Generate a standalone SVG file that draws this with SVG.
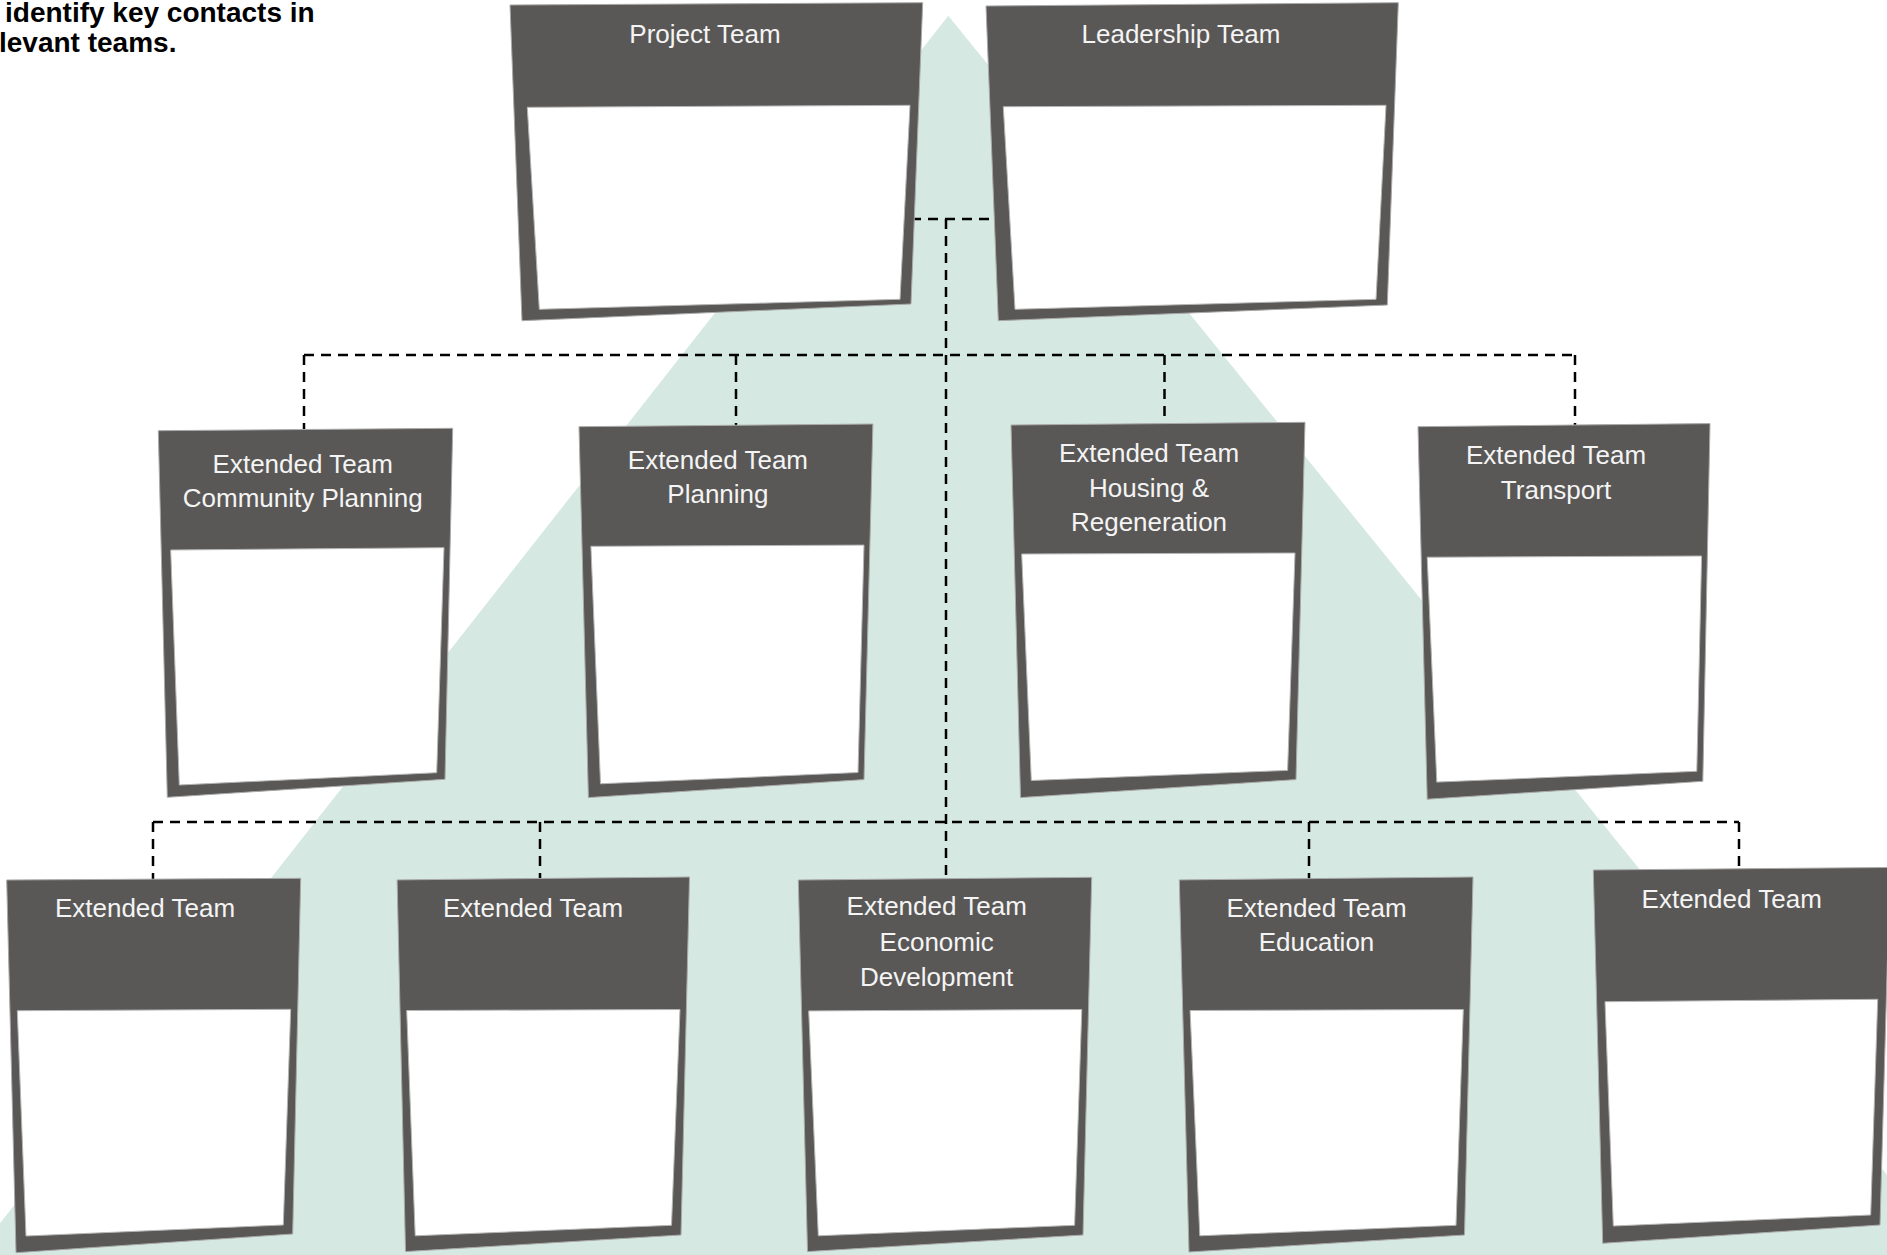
<svg xmlns="http://www.w3.org/2000/svg" width="1887" height="1255" viewBox="0 0 1887 1255">
<style>
.frame{fill:#5a5856;stroke:#a9a9a9;stroke-width:1}
.panel{fill:#ffffff;stroke:#b5b5b5;stroke-width:1}
.lbl{font-family:"Liberation Sans",Arial,sans-serif;font-size:26px;fill:#f4f4f4;text-anchor:middle}
.note{font-family:"Liberation Sans",Arial,sans-serif;font-size:28px;font-weight:bold;fill:#000}
.link{fill:none;stroke:#000;stroke-width:2.5;stroke-dasharray:10 7}
</style>
<rect width="1887" height="1255" fill="#ffffff"/>
<polygon id="backdrop" points="948.3,15.7 -25,1255 1952,1255" fill="#d5e8e1"/>
<text class="note" x="5" y="22">identify key contacts in</text>
<text class="note" x="-1" y="52">levant teams.</text>
<g id="connectors">
<path class="link" d="M911,219 H989"/>
<path class="link" d="M946,219 V877"/>
<path class="link" d="M304,355 H1575"/>
<path class="link" d="M304,355 V430"/>
<path class="link" d="M736,355 V426"/>
<path class="link" d="M1164.5,355 V423"/>
<path class="link" d="M1575,355 V426"/>
<path class="link" d="M153,822 H1739"/>
<path class="link" d="M153,822 V880"/>
<path class="link" d="M540,822 V879"/>
<path class="link" d="M1309,822 V879"/>
<path class="link" d="M1739,822 V869"/>
</g>
<g id="project-team">
<path class="frame" d="M510,5 L922.7,2.7 L911,304 L522,320.7 Z"/>
<path class="panel" d="M527.3,107.3 L910,105.3 L900,299.3 L539.3,309.3 Z"/>
<text class="lbl" x="705" y="43">Project Team</text>
</g>
<g id="leadership-team">
<path class="frame" d="M986,6 L1398.3,2.7 L1387.3,305 L998.3,320.7 Z"/>
<path class="panel" d="M1003.3,106.7 L1386,105.3 L1376,299.3 L1015,309.3 Z"/>
<text class="lbl" x="1181" y="43">Leadership Team</text>
</g>
<g id="community-planning">
<path class="frame" d="M158.3,430.7 L452.7,428.3 L445,779.3 L167.3,797.3 Z"/>
<path class="panel" d="M170.7,550 L444,547.7 L436.7,772.7 L179.3,785 Z"/>
<text class="lbl" x="302.7" y="473.3">Extended Team</text>
<text class="lbl" x="302.7" y="507.3">Community Planning</text>
</g>
<g id="planning">
<path class="frame" d="M579,426.7 L872.9,424 L864,779.6 L588.4,797.6 Z"/>
<path class="panel" d="M590.9,546.3 L864,545.1 L858,772.5 L600.5,783.8 Z"/>
<text class="lbl" x="717.9" y="468.5">Extended Team</text>
<text class="lbl" x="717.9" y="502.5">Planning</text>
</g>
<g id="housing-regeneration">
<path class="frame" d="M1011,425 L1305,422.3 L1296,779.6 L1020.5,797.6 Z"/>
<path class="panel" d="M1021.7,554 L1295,553 L1287.6,770.4 L1031.3,780.5 Z"/>
<text class="lbl" x="1149" y="461.7">Extended Team</text>
<text class="lbl" x="1149" y="496.7">Housing &amp;</text>
<text class="lbl" x="1149" y="531.2">Regeneration</text>
</g>
<g id="transport">
<path class="frame" d="M1418,426.7 L1710,423.6 L1702.8,781.3 L1427.2,799.2 Z"/>
<path class="panel" d="M1427.2,557.2 L1701.6,556 L1696.8,771.3 L1436.8,782.1 Z"/>
<text class="lbl" x="1556" y="464">Extended Team</text>
<text class="lbl" x="1556" y="499">Transport</text>
</g>
<g id="extended-team-1">
<path class="frame" d="M6.7,880 L300.7,878.3 L292.7,1234 L16,1252.7 Z"/>
<path class="panel" d="M17.3,1010.7 L290.7,1009.3 L283.3,1225 L26,1236 Z"/>
<text class="lbl" x="145" y="916.7">Extended Team</text>
</g>
<g id="extended-team-2">
<path class="frame" d="M397.1,879.9 L689.5,877 L681,1235 L405.5,1251.6 Z"/>
<path class="panel" d="M406.7,1010.5 L680,1009.5 L671.5,1225.3 L415.2,1235.8 Z"/>
<text class="lbl" x="533" y="916.7">Extended Team</text>
</g>
<g id="economic-development">
<path class="frame" d="M798.3,880 L1091.7,877.3 L1083,1235 L807.5,1251.6 Z"/>
<path class="panel" d="M808.7,1010.9 L1081.8,1009.5 L1074.6,1225.3 L818.3,1235.8 Z"/>
<text class="lbl" x="936.7" y="915">Extended Team</text>
<text class="lbl" x="936.7" y="950.5">Economic</text>
<text class="lbl" x="936.7" y="986">Development</text>
</g>
<g id="education">
<path class="frame" d="M1179.3,879.9 L1473,877 L1464.5,1235 L1189,1252 Z"/>
<path class="panel" d="M1190.1,1010.5 L1463.3,1009.5 L1456,1225.3 L1199.8,1235.8 Z"/>
<text class="lbl" x="1316.5" y="916.7">Extended Team</text>
<text class="lbl" x="1316.5" y="951">Education</text>
</g>
<g id="extended-team-5">
<path class="frame" d="M1593.3,870 L1890,867.5 L1880,1225 L1602.7,1243.3 Z"/>
<path class="panel" d="M1605,1001.7 L1877.7,999.3 L1870.7,1215 L1613.3,1226 Z"/>
<text class="lbl" x="1731.7" y="907.7">Extended Team</text>
</g>
</svg>
